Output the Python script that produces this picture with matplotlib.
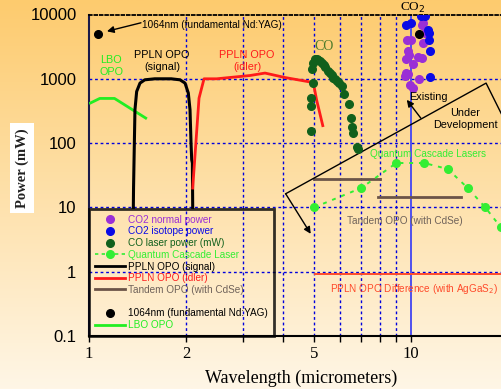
import numpy as np
import matplotlib
matplotlib.use("Agg")
import matplotlib.pyplot as plt
from matplotlib.lines import Line2D
from matplotlib.ticker import FixedLocator, NullFormatter, FixedFormatter

plt.rcParams['font.family'] = ['Liberation Sans', 'DejaVu Sans']

# ---------------- data ----------------
nd_x = [1.064]
nd_y = [5000]

lbo_x = [1.01, 1.08, 1.20, 1.50]
lbo_y = [420, 495, 495, 245]

signal_x = [1.373, 1.375, 1.380, 1.389, 1.406, 1.44, 1.49, 1.60, 1.80, 1.917,
            1.987, 2.034, 2.059, 2.074, 2.084, 2.094, 2.099]
signal_y = [10, 20, 55, 330, 634, 857, 964, 1000, 1000, 964,
            857, 600, 330, 100, 55, 49, 10]

idler_x = [2.099, 2.196, 2.276, 2.49, 3.162, 3.52, 4.06, 4.97, 5.09, 5.32]
idler_y = [20, 500, 1000, 1000, 1125, 1228, 1047, 875, 470, 187]

co_x = [4.88, 4.88, 4.88, 4.97, 4.94, 4.97, 5.03, 5.09, 5.15, 5.22, 5.28, 5.35,
        5.41, 5.54, 5.60, 5.67, 5.74, 5.80, 5.88, 5.99, 6.09, 6.21, 6.42,
        6.50, 6.57, 6.62, 6.78, 6.86]
co_y = [501, 371, 157, 857, 1416, 1754, 2023, 2050, 1973, 1900, 1754, 1650,
        1552, 1345, 1250, 1153, 1025, 980, 908, 857, 778, 578, 405,
        245, 177, 146, 88.5, 80.7]

co2n_x = [10.80, 10.92, 11.05, 9.74, 9.98, 10.92, 9.81, 9.65, 9.88, 10.54,
          10.80, 10.12, 9.65, 9.81, 9.60, 10.61, 9.93, 10.12]
co2n_y = [6920, 7350, 5140, 4050, 4050, 3590, 2660, 2020, 2360, 2220,
          2100, 1710, 1253, 1196, 1086, 1000, 807, 717]

co2i_x = [9.65, 9.98, 10.72, 11.05, 11.32, 11.37, 11.37, 11.46, 11.46]
co2i_y = [6920, 7350, 9310, 9310, 5780, 5140, 4050, 2720, 1062]

co2k_x = [10.61]
co2k_y = [5010]

qcl_x = [5, 7, 9, 11, 13, 15, 17, 19]
qcl_y = [10, 20, 49, 49, 39.5, 20, 10, 4.9]

tandem1_x = [5.0, 8.0]
tandem1_y = [27.5, 27.5]
tandem2_x = [7.9, 14.3]
tandem2_y = [14.3, 14.3]

diff_x = [5.05, 20]
diff_y = [0.92, 0.92]

co2_line = 10

xticks_major = [1, 2, 5, 10]
xtick_labels = ['1', '2', '5', '10']
xticks_minor = [3, 4, 6, 7, 8, 9]
yticks = [0.1, 1, 10, 100, 1000, 10000]
ytick_labels = ['0.1', '1', '10', '100', '1000', '10000']

# ---------------- colours ----------------
purple = '#9a2fd6'
blue = '#0a0ae6'
dkgreen = '#11601c'
ltgreen = '#33ee33'
lbogreen = '#22ee22'
red = '#ff1a1a'
brown = '#6b5448'
diffred = '#ff4a2a'

W, H = 501, 389
fig = plt.figure(figsize=(W / 100, H / 100), dpi=100)

# gradient background
bg = fig.add_axes([0, 0, 1, 1])
top = np.array([253, 203, 110]) / 255
bot = np.array([255, 246, 230]) / 255
t = np.linspace(0, 1, 256)[:, None]
grad = top[None, :] * (1 - t) + bot[None, :] * t
bg.imshow(grad[:, None, :], aspect='auto', extent=[0, 1, 0, 1])
bg.axis('off')

x0, x1, y0, y1 = 89, 508, 14.5, 336
ax = fig.add_axes([x0 / W, 1 - y1 / H, (x1 - x0) / W, (y1 - y0) / H])
ax.patch.set_alpha(0)
ax.set_xscale('log')
ax.set_yscale('log')
ax.set_xlim(1, 20)
ax.set_ylim(0.1, 10000)

# grid
for gx in [2, 3, 4, 5, 6, 7, 8, 9]:
    ax.axvline(gx, color='#0000dd', lw=1, ls=(0, (2, 2)), zorder=1)
for gy in [1, 10, 100, 1000]:
    ax.axhline(gy, color='#0000dd', lw=1, ls=(0, (2, 2)), zorder=1)

ax.axvline(co2_line, color='#5050ee', lw=1.4, zorder=2)

# series
ax.plot(lbo_x, lbo_y, color=lbogreen, lw=2, zorder=3)
ax.plot(signal_x, signal_y, color='black', lw=2.2, zorder=3)
ax.plot(idler_x, idler_y, color=red, lw=2, zorder=3)
ax.plot(tandem1_x, tandem1_y, color=brown, lw=2, zorder=3)
ax.plot(tandem2_x, tandem2_y, color=brown, lw=2, zorder=3)
ax.plot(diff_x, diff_y, color=diffred, lw=1.4, zorder=3)
ax.plot(qcl_x, qcl_y, color=ltgreen, lw=1.4, ls=(0, (2, 3)), marker='o',
        ms=5.5, mec=ltgreen, zorder=4)
ax.plot(co_x, co_y, ls='none', marker='o', ms=5.5, color=dkgreen, zorder=4)
ax.plot(co2n_x, co2n_y, ls='none', marker='o', ms=5.5, color=purple, zorder=4)
ax.plot(co2i_x, co2i_y, ls='none', marker='o', ms=5.5, color=blue, zorder=4)
ax.plot(co2k_x, co2k_y, ls='none', marker='o', ms=5.5, color='black', zorder=5)
ax.plot(nd_x, nd_y, ls='none', marker='o', ms=5.5, color='black', zorder=4)

# existing / under development boundary
ax.plot([4.08, 17.1, 20.0], [16.3, 857, 177], color='black', lw=1, zorder=3)
arrow_kw = dict(arrowstyle='-|>', color='black', lw=1, mutation_scale=10,
                shrinkA=0, shrinkB=0)
ax.annotate('', xy=(4.88, 3.88), xytext=(4.08, 16.3), arrowprops=arrow_kw, zorder=3)
ax.annotate('', xy=(9.70, 471), xytext=(10.72, 245), arrowprops=arrow_kw, zorder=3)
ax.annotate('', xy=(1.137, 5480), xytext=(1.45, 7430), arrowprops=arrow_kw, zorder=3)

# axes styling
ax.spines['right'].set_visible(False)
ax.spines['top'].set_linestyle((0, (1.5, 1.5)))
ax.spines['top'].set_color('black')
ax.spines['top'].set_linewidth(1.3)
ax.spines['left'].set_color('#1a1a4a')
ax.spines['left'].set_linewidth(1.5)
ax.spines['bottom'].set_linewidth(1.5)

ax.xaxis.set_major_locator(FixedLocator(xticks_major))
ax.xaxis.set_major_formatter(FixedFormatter(xtick_labels))
ax.xaxis.set_minor_locator(FixedLocator(xticks_minor))
ax.xaxis.set_minor_formatter(NullFormatter())
ax.yaxis.set_major_locator(FixedLocator(yticks))
ax.yaxis.set_major_formatter(FixedFormatter(ytick_labels))
ax.yaxis.set_minor_locator(FixedLocator([]))
ax.tick_params(axis='x', which='both', direction='out', length=4, width=1, pad=3)
ax.tick_params(axis='y', which='both', length=0, pad=9)
for lab in ax.get_xticklabels():
    lab.set_fontfamily('Liberation Serif')
    lab.set_fontsize(12)
for lab in ax.get_yticklabels():
    lab.set_fontsize(12)

# legend
handles = [
    Line2D([], [], ls='none', marker='o', ms=5.5, color=purple),
    Line2D([], [], ls='none', marker='o', ms=5.5, color=blue),
    Line2D([], [], ls='none', marker='o', ms=5.5, color=dkgreen),
    Line2D([], [], ls=(0, (2, 2)), lw=1.2, marker='o', ms=5.5, color=ltgreen),
    Line2D([], [], color='black', lw=2),
    Line2D([], [], color=red, lw=2),
    Line2D([], [], color=brown, lw=2),
    Line2D([], [], ls='none'),
    Line2D([], [], ls='none', marker='o', ms=5.5, color='black'),
    Line2D([], [], color=lbogreen, lw=2),
]
labels = ['CO2 normal power', 'CO2 isotope power', 'CO laser power (mW)',
          'Quantum Cascade Laser', 'PPLN OPO (signal)', 'PPLN OPO (idler)',
          'Tandem OPO (with CdSe)', ' ', '1064nm (fundamental Nd:YAG)', 'LBO OPO']
lcolors = [purple, blue, dkgreen, ltgreen, 'black', red, '#6f625a', 'black',
           'black', lbogreen]
leg = ax.legend(handles, labels, loc='lower left', bbox_to_anchor=(0, 0),
                bbox_transform=ax.transAxes, borderaxespad=0, fontsize=7.2,
                labelcolor=lcolors, frameon=True, fancybox=False,
                edgecolor='black', facecolor='none', handlelength=3.0,
                handletextpad=0.35, labelspacing=0.17, borderpad=0.6)
leg.get_frame().set_linewidth(2)
leg.set_zorder(6)


def ftxt(px, py, s, **kw):
    fig.text(px / W, 1 - py / H, s, ha=kw.pop('ha', 'center'),
             va=kw.pop('va', 'center'), **kw)


ftxt(141.5, 24.5, '1064nm (fundamental Nd:YAG)', ha='left', fontsize=7.2)
ftxt(111, 66, 'LBO\nOPO', color=lbogreen, fontsize=7.8, linespacing=1.25)
ftxt(162, 61.5, 'PPLN OPO\n(signal)', color='black', fontsize=7.8, linespacing=1.25)
ftxt(247, 61.5, 'PPLN OPO\n(idler)', color=red, fontsize=7.8, linespacing=1.25)
ftxt(324.3, 47, 'CO', color='#4a7a2a', fontsize=10, family='Liberation Serif')
ftxt(413, 7.5, 'CO$_2$', color='black', fontsize=9.5, family='Liberation Serif')
ftxt(428.3, 97.3, 'Existing', fontsize=7.8)
ftxt(465.5, 119.5, 'Under\nDevelopment', fontsize=7.8, linespacing=1.25)
ftxt(428, 153.7, 'Quantum Cascade Lasers', color=ltgreen, fontsize=7.2)
ftxt(405, 221, 'Tandem OPO (with CdSe)', color='#6f625a', fontsize=7.2)
ftxt(414, 289, 'PPLN OPO Difference (with AgGaS$_2$)', color=diffred, fontsize=7.2)

ftxt(301.5, 378, 'Wavelength (micrometers)', fontsize=13, family='Liberation Serif')
ftxt(22, 168, 'Power (mW)', rotation=90, fontsize=10.5, fontweight='bold',
     family='Liberation Serif', color='#222222',
     bbox=dict(facecolor='white', edgecolor='none', pad=4))

fig.savefig('out.png', dpi=100)
